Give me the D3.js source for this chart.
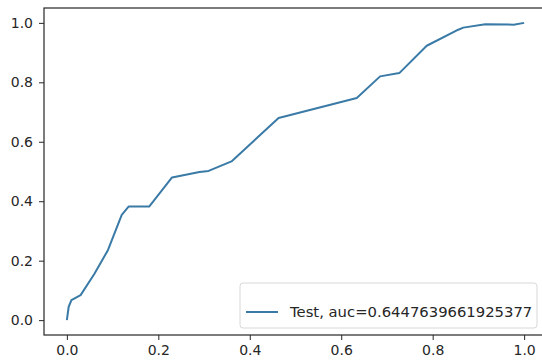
<!DOCTYPE html>
<html>
<head>
<meta charset="utf-8">
<script src="https://cdn.jsdelivr.net/npm/d3@7"></script>
<style>
  body { margin: 0; background: #fff; }
  svg { display: block; }
  text { font-family: "DejaVu Sans", sans-serif; fill: #262626; }
</style>
</head>
<body>
<div id="chart"></div>
<script>
var WIDTH = 542
var HEIGHT = 362

// roc curve
var fpr = [0, 0.004, 0.01, 0.03, 0.06, 0.09, 0.12, 0.135, 0.18, 0.23, 0.29, 0.31, 0.36, 0.463, 0.634, 0.685, 0.727, 0.787, 0.856, 0.867, 0.915, 0.977, 1.0]
var tpr = [0, 0.045, 0.067, 0.084, 0.155, 0.236, 0.354, 0.382, 0.382, 0.48, 0.498, 0.502, 0.534, 0.68, 0.747, 0.82, 0.831, 0.923, 0.977, 0.984, 0.995, 0.994, 1.0]
var xTicks = [0, 0.2, 0.4, 0.6, 0.8, 1.0]
var yTicks = [0, 0.2, 0.4, 0.6, 0.8, 1.0]
var legendLabel = "Test, auc=0.6447639661925377"

var margin = {left: 44, top: 8, right: -5, bottom: 27}

var svg = d3.select("#chart").append("svg")
    .attr("width", WIDTH)
    .attr("height", HEIGHT)

var x = d3.scaleLinear().domain([-0.05, 1.05]).range([margin.left, WIDTH - margin.right])
var y = d3.scaleLinear().domain([-0.05, 1.05]).range([HEIGHT - margin.bottom, margin.top])

var points = fpr.map(function(d, i){ return [d, tpr[i]] })

var line = d3.line()
    .x(function(d){ return x(d[0]) })
    .y(function(d){ return y(d[1]) })

svg.append("path")
    .datum(points)
    .attr("fill", "none")
    .attr("stroke", "#3a7aa6")
    .attr("stroke-width", 2)
    .attr("stroke-linejoin", "round")
    .attr("d", line)

var xAxis = svg.append("g")
    .attr("transform", "translate(0," + (HEIGHT - margin.bottom) + ")")
    .call(d3.axisBottom(x).tickValues(xTicks).tickFormat(d3.format(".1f")).tickSize(5).tickPadding(5).tickSizeOuter(0))

var yAxis = svg.append("g")
    .attr("transform", "translate(" + margin.left + ",0)")
    .call(d3.axisLeft(y).tickValues(yTicks).tickFormat(d3.format(".1f")).tickSize(5).tickPadding(6).tickSizeOuter(0))

svg.selectAll(".tick text").attr("font-size", 14).attr("font-family", "DejaVu Sans").style("fill", "#262626")
svg.selectAll(".tick line").attr("stroke", "#262626")
svg.selectAll(".domain").remove()

// frame
svg.append("rect")
    .attr("x", x(-0.05))
    .attr("y", y(1.05))
    .attr("width", x(1.05) - x(-0.05))
    .attr("height", y(-0.05) - y(1.05))
    .attr("fill", "none")
    .attr("stroke", "#262626")
    .attr("stroke-width", 1.2)

// legend, lower right
var legend = svg.append("g").attr("transform", "translate(240,283)")
legend.append("rect")
    .attr("width", 297)
    .attr("height", 45)
    .attr("rx", 3)
    .attr("fill", "#fff")
    .attr("fill-opacity", 0.8)
    .attr("stroke", "#d8d8d8")
legend.append("line")
    .attr("x1", 6).attr("x2", 38)
    .attr("y1", 29).attr("y2", 29)
    .attr("stroke", "#3a7aa6")
    .attr("stroke-width", 2)
legend.append("text")
    .attr("x", 50)
    .attr("y", 34)
    .attr("font-size", 14.8)
    .text(legendLabel)
</script>
</body>
</html>
